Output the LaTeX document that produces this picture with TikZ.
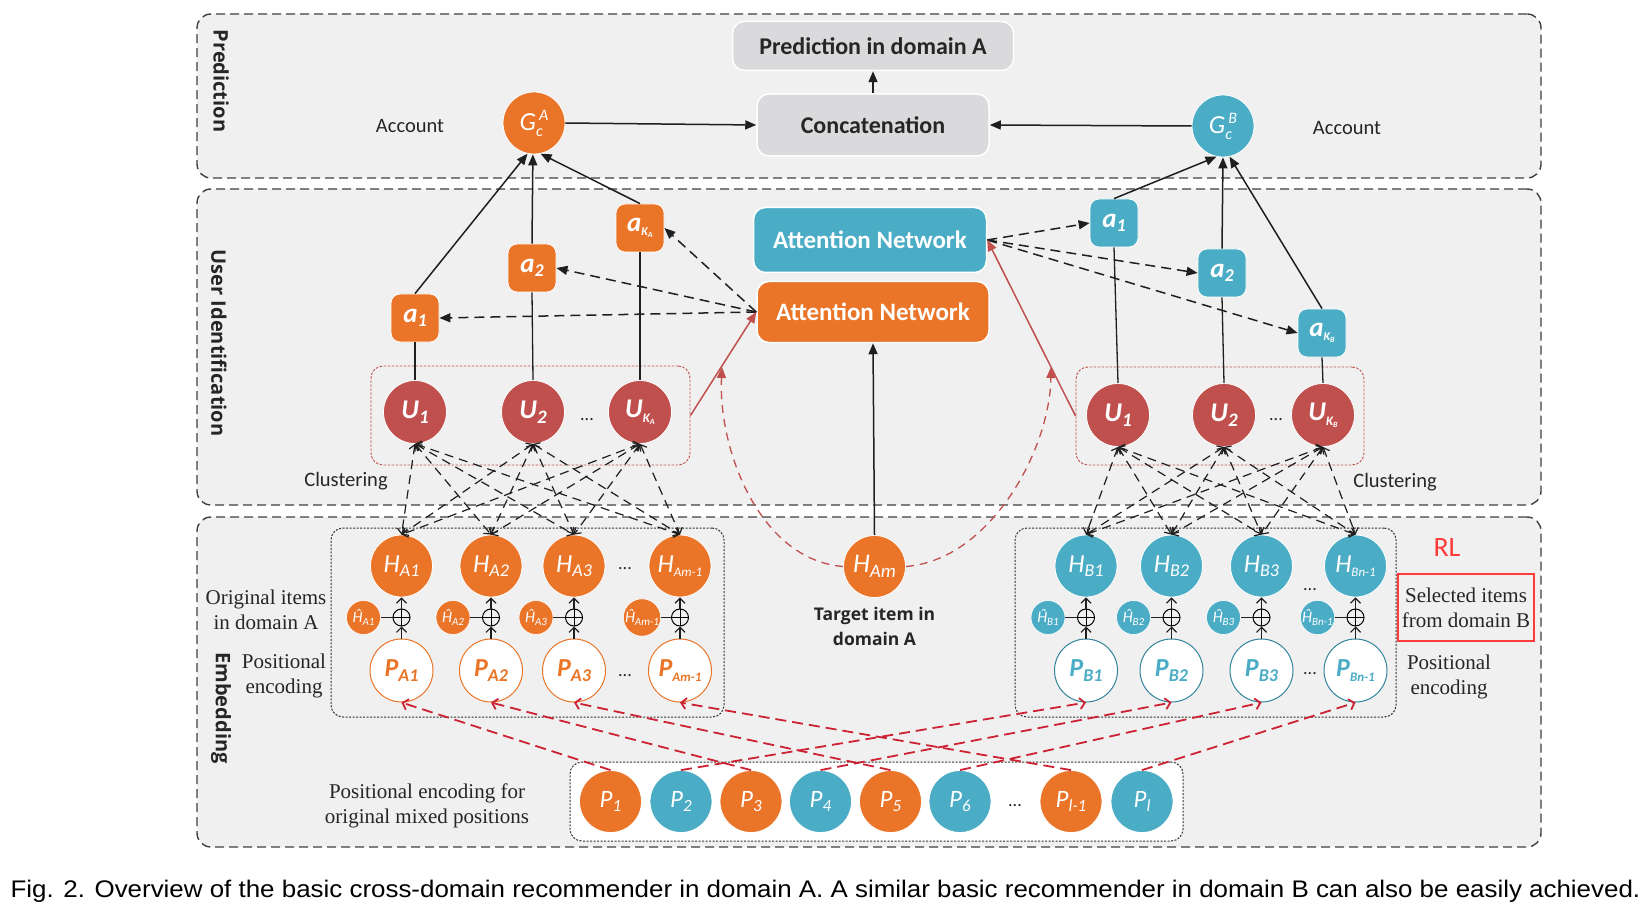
\documentclass[tikz,border=0pt]{standalone}
\usepackage{graphicx}
\usepackage{fontspec}
\setmainfont{Carlito}
\newfontfamily\osfont{Open Sans}
\newfontfamily\tmfont{Liberation Serif}
\newfontfamily\arfont{Liberation Sans}
\usetikzlibrary{arrows.meta}
\definecolor{panelgray}{HTML}{F0F0F0}
\definecolor{boxgray}{HTML}{DADADC}
\definecolor{orng}{HTML}{EA7528}
\definecolor{blu}{HTML}{4BACC6}
\definecolor{bludark}{HTML}{31849B}
\definecolor{ured}{HTML}{C0504D}
\definecolor{redline}{HTML}{CC2233}
\definecolor{rlred}{HTML}{FF3B3B}
\newcommand{\lbl}[4]{{\fontsize{#1}{#1}\selectfont #2}\raisebox{-0.17\dimexpr#1pt\relax}{\fontsize{#3}{#3}\selectfont #4}}
\newcommand{\kk}[1]{K\raisebox{-2pt}{\fontsize{8}{8}\selectfont #1}}
\begin{document}
\begin{tikzpicture}[x=1pt,y=-1pt,
  panel/.style={draw=black!75, dash pattern=on 9pt off 5pt, line width=1.4pt, fill=panelgray, rounded corners=14pt, inner sep=0pt},
  seclab/.style={rotate=-90, font=\osfont\bfseries\fontsize{20}{20}\selectfont, text=black!85},
  graybox/.style={fill=boxgray, draw=white, line width=1.5pt, rounded corners=12pt, inner sep=0pt, font=\bfseries\fontsize{24}{24}\selectfont, text=black!85},
  attbox/.style={draw=white, line width=1.5pt, rounded corners=12pt, inner sep=0pt, text=white, font=\bfseries\fontsize{25}{25}\selectfont},
  gcirc/.style={circle, minimum size=62pt, inner sep=0pt, text=white, draw=white, line width=0.8pt, font=\itshape},
  abox/.style={rounded corners=9pt, minimum width=48pt, minimum height=48pt, inner sep=0pt, text=white, draw=white, line width=0.8pt, font=\bfseries\itshape},
  ucirc/.style={circle, fill=ured, minimum size=63pt, inner sep=0pt, text=white, draw=white, line width=0.8pt, font=\bfseries\itshape},
  ubox/.style={draw=ured, dash pattern=on 2.5pt off 1.5pt, line width=0.9pt, rounded corners=12pt, inner sep=0pt},
  dotbox/.style={draw=black!80, dash pattern=on 2pt off 1.5pt, line width=1pt, rounded corners=12pt, inner sep=0pt},
  hcirc/.style={circle, minimum size=62pt, inner sep=0pt, text=white, draw=white, line width=0.8pt, font=\itshape},
  hhat/.style={circle, minimum size=34pt, inner sep=0pt, text=white, draw=white, line width=0.6pt, font=\itshape},
  pcirc/.style={circle, fill=white, minimum size=63pt, inner sep=0pt, line width=1pt, font=\bfseries\itshape},
  bcirc/.style={circle, minimum size=62pt, inner sep=0pt, text=white, draw=white, line width=0.8pt, font=\itshape},
  oplus/.style={circle, draw=black, minimum size=17pt, inner sep=0pt, line width=1pt,
     path picture={\draw[line width=1pt] (path picture bounding box.north) -- (path picture bounding box.south) (path picture bounding box.west) -- (path picture bounding box.east);}},
  plain/.style={font=\fontsize{20.5}{20.5}\selectfont, text=black!85},
  serif/.style={font=\tmfont\fontsize{21}{25}\selectfont, align=center, text=black!85},
  dots/.style={font=\fontsize{18}{18}\selectfont, anchor=base, text=black!85},
  sarr/.style={line width=1.5pt, draw=black!88, -{Triangle[length=11pt,width=9pt]}},
  sline/.style={line width=1.3pt, draw=black!88},
  darr/.style={line width=1.5pt, draw=black!88, dash pattern=on 10pt off 6pt, -{Triangle[length=11pt,width=9pt]}},
  clus/.style={line width=1.2pt, draw=black!88, dash pattern=on 9pt off 6pt, {Straight Barb[length=5pt,width=10pt]}-{Straight Barb[length=5pt,width=10pt]}},
  oarr/.style={line width=1.2pt, draw=black!88, -{Straight Barb[length=5pt,width=10pt]}},
  rsolid/.style={line width=1.5pt, draw=ured, -{Triangle[length=11pt,width=9pt]}},
  rarc/.style={line width=1.3pt, draw=ured, dash pattern=on 8pt off 6pt, -{Triangle[length=11pt,width=9pt]}},
  rarr/.style={line width=1.8pt, draw=redline, dash pattern=on 11pt off 6pt, -{Straight Barb[length=5pt,width=11pt]}}
]
\useasboundingbox[fill=white] (0,0) rectangle (1646,909);

% panels
\node[panel, minimum width=1344pt, minimum height=164pt] (pP) at (869,96) {};
\node[panel, minimum width=1344pt, minimum height=316pt] (pU) at (869,347) {};
\node[panel, minimum width=1344pt, minimum height=330pt] (pE) at (869,682) {};
\node[seclab] (lP) at (221,81) {Prediction};
\node[seclab] (lU) at (219,343) {User Identification};
\node[seclab] (lE) at (221,708) {Embedding};

% prediction row
\node[graybox, minimum width=281pt, minimum height=49pt] (pred) at (873,46) {Prediction in domain A};
\node[graybox, minimum width=232pt, minimum height=62pt] (concat) at (873,125) {Concatenation};
\node[gcirc, fill=orng] (gA) at (534,123) {{\fontsize{26}{26}\selectfont G}\rlap{\raisebox{-6pt}{\fontsize{16}{16}\selectfont c}}\raisebox{10pt}{\fontsize{16}{16}\selectfont\hspace{3pt}A}};
\node[gcirc, fill=blu] (gB) at (1223,126) {{\fontsize{26}{26}\selectfont G}\rlap{\raisebox{-6pt}{\fontsize{16}{16}\selectfont c}}\raisebox{10pt}{\fontsize{16}{16}\selectfont\hspace{3pt}B}};
\node[plain] (accA) at (410,126) {Account};
\node[plain] (accB) at (1347,128) {Account};

% attention
\node[attbox, fill=blu, minimum width=233pt, minimum height=65pt] (attB) at (870,240) {Attention Network};
\node[attbox, fill=orng, minimum width=232pt, minimum height=61pt] (attA) at (873,312) {Attention Network};

% a boxes
\node[abox, fill=orng] (aA1) at (415,318) {\lbl{27}{a}{18}{1}};
\node[abox, fill=orng] (aA2) at (532,268) {\lbl{27}{a}{18}{2}};
\node[abox, fill=orng] (aA3) at (640,228) {\lbl{27}{a}{12}{\kk{A}}};
\node[abox, fill=blu] (aB1) at (1114,223) {\lbl{27}{a}{18}{1}};
\node[abox, fill=blu] (aB2) at (1222,273) {\lbl{27}{a}{18}{2}};
\node[abox, fill=blu] (aB3) at (1322,333) {\lbl{27}{a}{12}{\kk{B}}};

% U clusters
\node[ubox, minimum width=319pt, minimum height=99pt] (uboxA) at (530.5,415.5) {};
\node[ubox, minimum width=288pt, minimum height=98pt] (uboxB) at (1220,416) {};
\node[ucirc] (uA1) at (415,412) {\lbl{27}{U}{19}{1}};
\node[ucirc] (uA2) at (533,412) {\lbl{27}{U}{19}{2}};
\node[ucirc] (uA3) at (640,412) {\lbl{27}{U}{13}{\kk{A}}};
\node[ucirc] (uB1) at (1118,415) {\lbl{27}{U}{19}{1}};
\node[ucirc] (uB2) at (1224,415) {\lbl{27}{U}{19}{2}};
\node[ucirc] (uB3) at (1323,415) {\lbl{27}{U}{13}{\kk{B}}};
\node[dots] (dU1) at (587,420) {...};
\node[dots] (dU2) at (1276,420) {...};
\node[plain] (clA) at (346,481) {Clustering};
\node[plain] (clB) at (1395,482) {Clustering};

% embedding boxes
\node[dotbox, minimum width=393pt, minimum height=189pt] (eboxA) at (527.5,622.5) {};
\node[dotbox, minimum width=381pt, minimum height=189pt] (eboxB) at (1205.5,622.5) {};
\node[dotbox, fill=white, minimum width=613pt, minimum height=79pt] (pbox) at (876.5,801.5) {};

\foreach \i/\x/\s/\z in {1/401.5/A1/18, 2/491/A2/18, 3/574/A3/18, 4/680/Am-1/13}{
  \node[hcirc, fill=orng] (hA\i) at (\x,566) {\lbl{26}{H}{\z}{\s}};
  \node[hhat, fill=orng] (hhA\i) at (\x-38,617.5) {\lbl{16}{\^H}{11}{\s}};
  \node[oplus] (oA\i) at (\x,617.5) {};
  \node[pcirc, draw=orng, text=orng] (pA\i) at (\x,670.5) {\lbl{26}{P}{\z}{\s}};
}
\foreach \i/\x/\s/\z in {1/1086/B1/18, 2/1171.5/B2/18, 3/1261.5/B3/18, 4/1355.5/Bn-1/13}{
  \node[hcirc, fill=blu] (hB\i) at (\x,566) {\lbl{26}{H}{\z}{\s}};
  \node[hhat, fill=blu] (hhB\i) at (\x-38,617.5) {\lbl{16}{\^H}{11}{\s}};
  \node[oplus] (oB\i) at (\x,617.5) {};
  \node[pcirc, draw=bludark, text=blu] (pB\i) at (\x,670.5) {\lbl{26}{P}{\z}{\s}};
}
\node[dots] (dH1) at (625,569) {...};
\node[dots] (dP1) at (625,676) {...};
\node[dots] (dH2) at (1310,590) {...};
\node[dots] (dP2) at (1310,674) {...};

\node[hcirc, fill=orng] (hAm) at (874.5,566.5) {\lbl{27}{H}{19}{Am}};
\node[font=\osfont\bfseries\fontsize{17.5}{25}\selectfont, align=center, text=black!85] (tgt) at (874.5,626) {Target item in\\domain A};

\node[serif] (origA) at (266,610) {Original items\\in domain A};
\node[serif] (posA) at (284,676) {Positional\\encoding};
\node[serif] (posB) at (1449,677) {Positional\\encoding};
\node[serif, draw=rlred, line width=2pt, minimum width=136pt, minimum height=67pt, inner sep=0pt] (sel) at (1466,607.5) {Selected items\\from domain B};
\node[font=\fontsize{28}{28}\selectfont, text=rlred] (rl) at (1447,548) {RL};
\node[serif] (posMix) at (427,806) {Positional encoding for\\original mixed positions};

% bottom mixed positions
\foreach \i/\x/\c/\s in {1/610.5/orng/1, 2/681/blu/2, 3/751/orng/3, 4/820.5/blu/4, 5/890.5/orng/5, 6/960/blu/6, 7/1071/orng/l-1, 8/1142/blu/l}{
  \node[bcirc, fill=\c] (p\i) at (\x,801.5) {\lbl{25}{P}{17}{\s}};
}
\node[dots] (dP3) at (1015,806) {...};

% caption
\node[font=\arfont\fontsize{24}{24}\selectfont, anchor=base, text=black] (cap) at (825.5,897) {\scalebox{1.08}[1]{Fig. 2. Overview of the basic cross-domain recommender in domain A. A similar basic recommender in domain B can also be easily achieved.}};

% ---------- connectors ----------
\draw[sarr] (concat.north) -- (pred.south);
\draw[sarr] (gA.east) -- (concat.west);
\draw[sarr] (gB.west) -- (concat.east);
\draw[sarr] (hAm.north) -- (attA.south);

\draw[sarr] (aA1.north) -- (gA.258);
\draw[sarr] (aA2.north) -- (gA.268);
\draw[sarr] (aA3.north) -- (gA.282);
\draw[sarr] (aB1.north) -- (gB.258);
\draw[sarr] (aB2.north) -- (gB.270);
\draw[sarr] (aB3.north) -- (gB.282);

\draw[sline] (uA1.north) -- (aA1.south);
\draw[sline] (uA2.north) -- (aA2.south);
\draw[sline] (uA3.north) -- (aA3.south);
\draw[sline] (uB1.north) -- (aB1.south);
\draw[sline] (uB2.north) -- (aB2.south);
\draw[sline] (uB3.north) -- (aB3.south);

\draw[darr] (attA.west) -- (aA1.east);
\draw[darr] (attA.west) -- (aA2.east);
\draw[darr] (attA.west) -- (aA3.east);
\draw[darr] (attB.east) -- (aB1.west);
\draw[darr] (attB.east) -- (aB2.west);
\draw[darr] (attB.east) -- (aB3.west);

\draw[rsolid] (uboxA.east) -- (attA.west);
\draw[rsolid] (uboxB.west) -- (attB.east);
\draw[rarc] (hAm.west) .. controls (760,560) and (718,450) .. (722,367);
\draw[rarc] (hAm.east) .. controls (990,560) and (1050,450) .. (1051,367);

\foreach \u in {1,2,3}{\foreach \h in {1,2,3,4}{
  \draw[clus] (uA\u.south) -- (hA\h.north);
  \draw[clus] (uB\u.south) -- (hB\h.north);
}}

\foreach \i in {1,2,3,4}{
  \draw[oarr] (pA\i.north) -- (oA\i.south);
  \draw[oarr] (oA\i.north) -- (hA\i.south);
  \draw[line width=1.4pt, draw=black!88] (hhA\i.east) -- (oA\i.west);
  \draw[oarr] (pB\i.north) -- (oB\i.south);
  \draw[oarr] (oB\i.north) -- (hB\i.south);
  \draw[line width=1.4pt, draw=black!88] (hhB\i.east) -- (oB\i.west);
}

\draw[rarr] (p1.north) -- (pA1.south);
\draw[rarr] (p3.north) -- (pA2.south);
\draw[rarr] (p5.north) -- (pA3.south);
\draw[rarr] (p7.north) -- (pA4.south);
\draw[rarr] (p2.north) -- (pB1.south);
\draw[rarr] (p4.north) -- (pB2.south);
\draw[rarr] (p6.north) -- (pB3.south);
\draw[rarr] (p8.north) -- (pB4.south);
\end{tikzpicture}
\end{document}
